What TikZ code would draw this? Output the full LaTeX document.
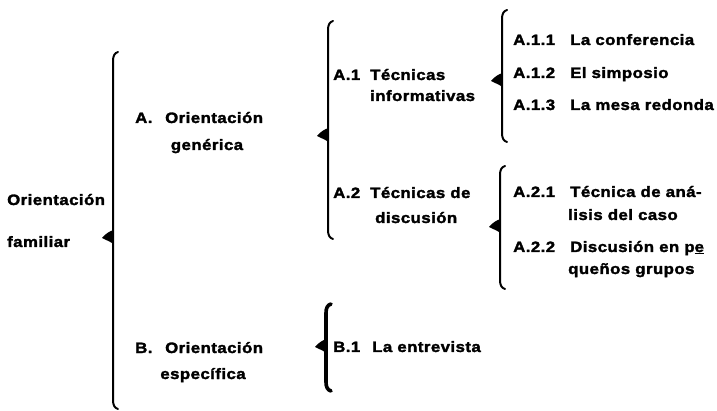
\documentclass[tikz,border=0pt]{standalone}
\usepackage{fontspec}
\newfontfamily\lblfont{Liberation Sans Bold}[LetterSpace=3,FakeStretch=1.12,FakeBold=2]
\begin{document}
\begin{tikzpicture}[x=1pt,y=-1pt]
\tikzset{
  lbl/.style={anchor=base west,inner sep=0pt,font=\lblfont\fontsize{15}{17}\selectfont},
  lblc/.style={lbl,anchor=base},
  braceline/.style={line width=2pt,line cap=round},
  bracethick/.style={line width=3.6pt,line cap=round}
}
\newcommand\mybrace[5]{% style, x, top, tip, bottom
  \draw[#1] (#2+5,#3) .. controls (#2+1.5,#3+1) and (#2,#3+4) .. (#2,#3+9)
     -- (#2,#5-9) .. controls (#2,#5-4) and (#2+1.5,#5-1) .. (#2+5,#5);
  \fill (#2+0.5,#4-7) .. controls (#2-3,#4-6) and (#2-8,#4-3) .. (#2-11,#4+1)
     .. controls (#2-7,#4+3) and (#2-2,#4+5) .. (#2+0.5,#4+7) -- cycle;
}
\useasboundingbox (0,0) rectangle (717,411);
% braces
\mybrace{braceline}{113}{52}{237}{409}
\mybrace{braceline}{328}{21}{135}{239}
\mybrace{braceline}{502}{10}{80}{142}
\mybrace{braceline}{500}{166}{226}{289}
\mybrace{bracethick}{326}{304}{346}{391}
% level 0
\node[lbl] (of1) at (7,205) {Orientación};
\node[lbl] (of2) at (7,247) {familiar};
% level 1
\node[lbl] (an) at (135,123) {A.};
\node[lbl] (at1) at (165,123) {Orientación};
\node[lblc] (at2) at (207,150) {genérica};
\node[lbl] (bn) at (135,353) {B.};
\node[lbl] (bt1) at (165,353) {Orientación};
\node[lblc] (bt2) at (203,379) {específica};
% level 2
\node[lbl] (a1n) at (333,80) {A.1};
\node[lbl] (a1t) at (370,80) {Técnicas};
\node[lbl] (a1u) at (370,101) {informativas};
\node[lbl] (a2n) at (333,198) {A.2};
\node[lbl] (a2t) at (370,198) {Técnicas de};
\node[lbl] (a2u) at (375,223) {discusión};
\node[lbl] (b1n) at (333,352) {B.1};
\node[lbl] (b1t) at (372,352) {La entrevista};
% level 3
\node[lbl] (i1n) at (513,45) {A.1.1};
\node[lbl] (i1t) at (570,45) {La conferencia};
\node[lbl] (i2n) at (513,78) {A.1.2};
\node[lbl] (i2t) at (570,78) {El simposio};
\node[lbl] (i3n) at (513,110) {A.1.3};
\node[lbl] (i3t) at (570,110) {La mesa redonda};
\node[lbl] (j1n) at (513,197) {A.2.1};
\node[lbl] (j1t) at (570,197) {Técnica de aná-};
\node[lbl] (j1u) at (568,220) {lisis del caso};
\node[lbl] (j2n) at (513,252) {A.2.2};
\node[lbl] (j2t) at (570,252) {Discusión en p\underline{e}};
\node[lbl] (j2u) at (568,274) {queños grupos};
\end{tikzpicture}
\end{document}
